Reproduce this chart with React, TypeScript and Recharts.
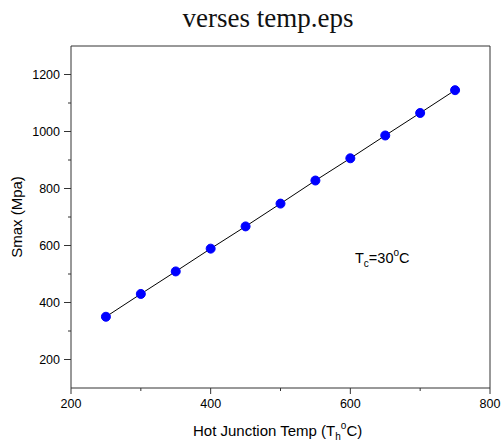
import { LineChart, Line, XAxis, YAxis, Customized } from "recharts"

// hot junction temperature (°C)
const temps = [250, 300, 350, 400, 450, 500, 550, 600, 650, 700, 750]
// Smax (Mpa)
const smax = [350, 430, 509, 589, 667, 747, 828, 906, 986, 1065, 1145]

const xTicks = [200, 300, 400, 500, 600, 700, 800]
const yTicks = [200, 300, 400, 500, 600, 700, 800, 900, 1000, 1100, 1200]

const data = temps.map((t, i) => ({ temp: t, smax: smax[i] }))

const axisColor = "#333"
const sans = "'Liberation Sans', Arial, sans-serif"

const BottomTick = (props: any) => {
  const { x, y, payload } = props
  const major = payload.value % 200 === 0
  return (
    <g>
      <line x1={x} y1={y} x2={x} y2={y + (major ? 6 : 3)} stroke={axisColor} />
      {major && (
        <text x={x} y={y + 20} textAnchor="middle" fontSize={12.5} fontFamily={sans} fill="#000">
          {payload.value}
        </text>
      )}
    </g>
  )
}

const TopTick = (props: any) => {
  const { x, y, payload } = props
  const major = payload.value % 200 === 0
  return <line x1={x} y1={y} x2={x} y2={y + (major ? 7 : 4)} stroke={axisColor} />
}

const LeftTick = (props: any) => {
  const { x, y, payload } = props
  const major = payload.value % 200 === 0
  return (
    <g>
      <line x1={x} y1={y} x2={x - (major ? 7 : 3)} y2={y} stroke={axisColor} />
      {major && (
        <text x={x - 11} y={y} dy="0.36em" textAnchor="end" fontSize={12.5} fontFamily={sans} fill="#000">
          {payload.value}
        </text>
      )}
    </g>
  )
}

const RightTick = (props: any) => {
  const { x, y, payload } = props
  const major = payload.value % 200 === 0
  return <line x1={x} y1={y} x2={x - (major ? 7 : 4)} y2={y} stroke={axisColor} />
}

const Texts = () => (
  <g>
    <text x={268} y={27} textAnchor="middle" fontSize={27} fontFamily="'Liberation Serif', serif" fill="#111">
      verses temp.eps
    </text>
    <text x={17} y={217} transform="rotate(-90 17 217)" dy="0.35em" textAnchor="middle" fontSize={15} fontFamily={sans} fill="#000">
      Smax (Mpa)
    </text>
    <text x={193} y={436} fontSize={15} fontFamily={sans} fill="#000">
      Hot Junction Temp (T
      <tspan fontSize={10} dy={4}>h</tspan>
      <tspan fontSize={10} dy={-11}>o</tspan>
      <tspan dy={7}>C)</tspan>
    </text>
    <text x={355} y={263} fontSize={14.5} fontFamily={sans} fill="#000">
      T
      <tspan fontSize={10} dy={4}>c</tspan>
      <tspan dy={-4}>=30</tspan>
      <tspan fontSize={10} dy={-7}>o</tspan>
      <tspan dy={7}>C</tspan>
    </text>
  </g>
)

export default function App() {
  return (
    <div style={{ position: "absolute", left: 0, top: 0, background: "#fff" }}>
      <LineChart width={501} height={444} data={data} margin={{ top: 45, right: 10, left: 0, bottom: 0 }}>
        <XAxis
          dataKey="temp"
          type="number"
          domain={[200, 800]}
          ticks={xTicks}
          interval={0}
          height={56}
          tickSize={0}
          tickMargin={0}
          tickLine={false}
          stroke={axisColor}
          tick={<BottomTick />}
        />
        <XAxis
          xAxisId="top"
          orientation="top"
          type="number"
          domain={[200, 800]}
          ticks={xTicks}
          interval={0}
          height={1}
          tickSize={0}
          tickMargin={0}
          tickLine={false}
          stroke={axisColor}
          tick={<TopTick />}
        />
        <YAxis
          type="number"
          domain={[100, 1300]}
          ticks={yTicks}
          interval={0}
          width={71}
          tickSize={0}
          tickMargin={0}
          tickLine={false}
          stroke={axisColor}
          tick={<LeftTick />}
        />
        <YAxis
          yAxisId="right"
          orientation="right"
          type="number"
          domain={[100, 1300]}
          ticks={yTicks}
          interval={0}
          width={1}
          tickSize={0}
          tickMargin={0}
          tickLine={false}
          stroke={axisColor}
          tick={<RightTick />}
        />
        <Line
          dataKey="smax"
          type="linear"
          stroke="#000"
          strokeWidth={1}
          dot={{ r: 4.5, fill: "#0000ff", stroke: "#0000ff", strokeWidth: 1 }}
          isAnimationActive={false}
        />
        <Customized component={Texts} />
      </LineChart>
    </div>
  )
}
